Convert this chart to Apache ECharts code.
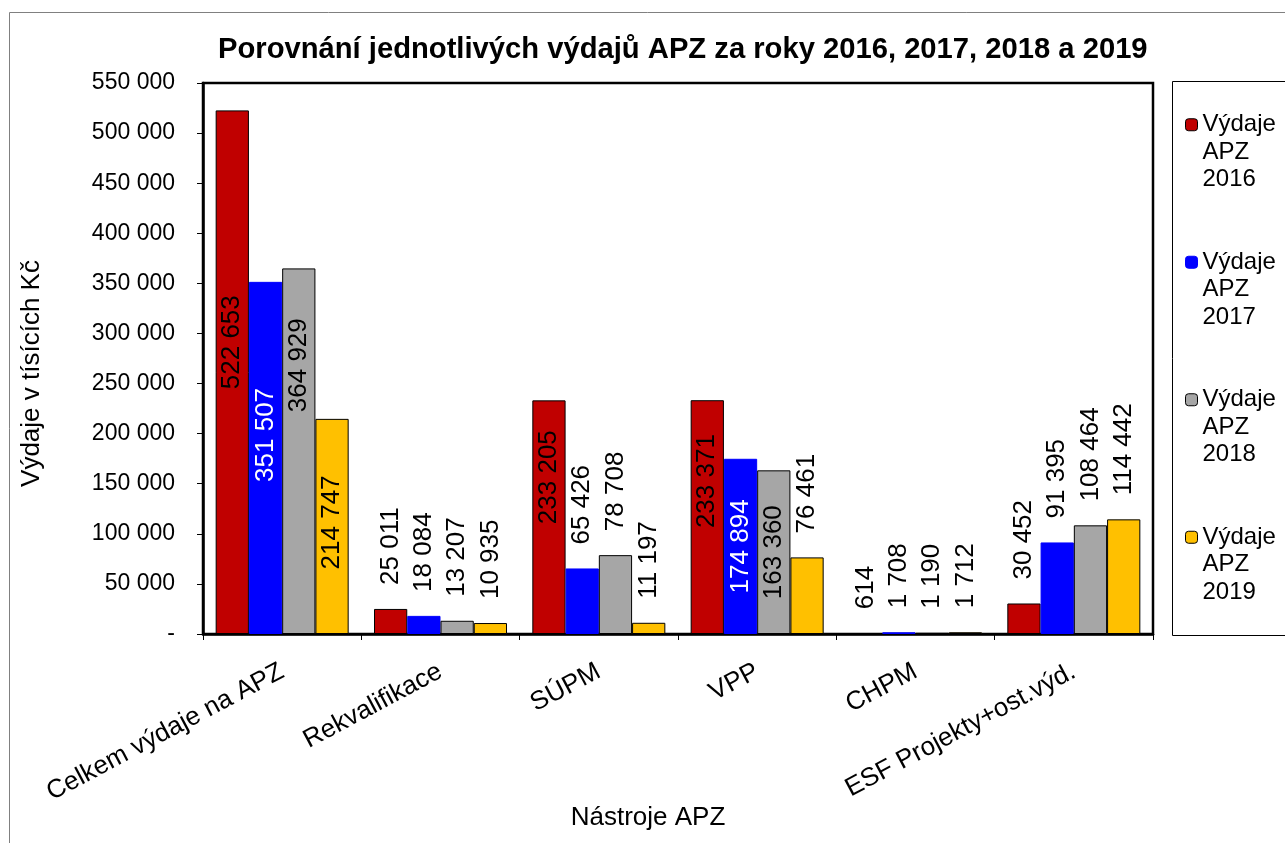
<!DOCTYPE html>
<html>
<head>
<meta charset="utf-8">
<title>Porovnání jednotlivých výdajů APZ</title>
<script src="https://cdn.jsdelivr.net/npm/echarts@6/dist/echarts.min.js"></script>
<style>
  html, body { margin: 0; padding: 0; background: #fff; }
  #chart { width: 1285px; height: 843px; }
</style>
</head>
<body>
<div id="chart"></div>
<script>
// Nástroje APZ (categories)
const categories = ['Celkem výdaje na APZ', 'Rekvalifikace', 'SÚPM', 'VPP', 'CHPM', 'ESF Projekty+ost.výd.'];

// Výdaje v tisících Kč per year
const vydaje2016 = [522653, 25011, 233205, 233371, 614, 30452];
const vydaje2017 = [351507, 18084, 65426, 174894, 1708, 91395];
const vydaje2018 = [364929, 13207, 78708, 163360, 1190, 108464];
const vydaje2019 = [214747, 10935, 11197, 76461, 1712, 114442];

const seriesNames = ['Výdaje APZ 2016', 'Výdaje APZ 2017', 'Výdaje APZ 2018', 'Výdaje APZ 2019'];

const FONT = '"Liberation Sans", Arial, sans-serif';
const fmt = v => String(v).replace(/\B(?=(\d{3})+(?!\d))/g, ' ');

const seriesStyle = [
  { color: '#C00000', border: '#000000', insideText: '#000000' },
  { color: '#0000FF', border: '#0000FF', insideText: '#FFFFFF' },
  { color: '#A6A6A6', border: '#000000', insideText: '#000000' },
  { color: '#FFC000', border: '#000000', insideText: '#000000' }
];

// bars tall enough carry their value inside, the rest above the bar
const INSIDE_MIN = 150000;

// hand-placed lift (px) of some inside labels, per series and category
const insideLift = [
  [30, 0, 40, 36, 0, 0],
  [23, 0, 0, 0, 0, 0],
  [86, 0, 0, 0, 0, 0],
  [4, 0, 0, 0, 0, 0]
];

function buildSeries(idx, values) {
  const st = seriesStyle[idx];
  return {
    name: seriesNames[idx],
    type: 'bar',
    barGap: '0%',
    barCategoryGap: '16%',
    itemStyle: { color: st.color, borderColor: st.border, borderWidth: 1 },
    data: values.map((v, c) => ({
      value: v,
      // label offset is given along the rotated text, so x moves it upwards
      label: v >= INSIDE_MIN
        ? { position: 'inside', rotate: 90, align: 'center', verticalAlign: 'middle',
            offset: [insideLift[idx][c], 0], color: st.insideText }
        : { position: 'top', rotate: 90, align: 'left', verticalAlign: 'middle', distance: 24, color: '#000' }
    })),
    label: {
      show: true,
      fontFamily: FONT,
      fontSize: 26,
      formatter: p => fmt(p.value)
    },
    emphasis: { disabled: true }
  };
}

const chart = echarts.init(document.getElementById('chart'), null, { renderer: 'canvas' });

chart.setOption({
  animation: false,
  backgroundColor: '#ffffff',
  title: {
    text: 'Porovnání jednotlivých výdajů APZ za roky 2016, 2017, 2018 a 2019',
    left: 218,
    top: 35,
    padding: 0,
    textStyle: { fontFamily: FONT, fontWeight: 'bold', fontSize: 29.2, color: '#000' }
  },
  graphic: [
    { type: 'rect', shape: { x: 9.5, y: 12.5, width: 1400, height: 1000 }, style: { fill: null, stroke: '#808080', lineWidth: 1 }, silent: true },
    { type: 'rect', shape: { x: 1172.5, y: 81.5, width: 200, height: 554 }, style: { fill: null, stroke: '#000000', lineWidth: 1 }, silent: true }
  ],
  legend: {
    orient: 'vertical',
    left: 1185,
    top: 56,
    padding: 0,
    itemWidth: 12,
    itemHeight: 12,
    itemGap: 0,
    data: seriesNames.map((n, i) => ({
      name: n,
      itemStyle: { color: seriesStyle[i].color, borderColor: seriesStyle[i].border, borderWidth: 1 }
    })),
    // two leading empty lines keep the marker beside the first line of the name
    formatter: n => '\n\n' + n.split(' ').join('\n'),
    textStyle: { fontFamily: FONT, fontSize: 24, color: '#000', lineHeight: 27.5 },
    selectedMode: false
  },
  grid: {
    left: 203, right: 132, top: 83, bottom: 209,
    outerBoundsMode: 'none',
    show: true, borderColor: '#000', borderWidth: 2.5, backgroundColor: '#fff'
  },
  xAxis: {
    type: 'category',
    data: categories,
    name: 'Nástroje APZ',
    nameLocation: 'middle',
    nameGap: 171,
    nameMoveOverlap: false,
    nameTextStyle: { fontFamily: FONT, fontSize: 26, color: '#000', padding: [0, 60, 0, 0] },
    axisLine: { lineStyle: { color: '#000', width: 2.5 } },
    axisTick: { show: true, alignWithLabel: false, length: 6, lineStyle: { color: '#000', width: 1 } },
    axisLabel: { rotate: 28, margin: 36, fontFamily: FONT, fontSize: 26, color: '#000', interval: 0 }
  },
  yAxis: {
    type: 'value',
    min: 0,
    max: 550000,
    interval: 50000,
    name: 'Výdaje v tísících Kč',
    nameLocation: 'middle',
    nameRotate: 90,
    nameGap: 158,
    nameMoveOverlap: false,
    nameTextStyle: { fontFamily: FONT, fontSize: 26, color: '#000', padding: [0, 30, 0, 0] },
    axisLine: { show: true, lineStyle: { color: '#000', width: 2.5 } },
    axisTick: { show: true, length: 6, lineStyle: { color: '#000', width: 1 } },
    splitLine: { show: false },
    axisLabel: {
      margin: 28,
      fontFamily: FONT, fontSize: 23, color: '#000',
      formatter: v => v === 0 ? '-' : fmt(v)
    }
  },
  series: [
    buildSeries(0, vydaje2016),
    buildSeries(1, vydaje2017),
    buildSeries(2, vydaje2018),
    buildSeries(3, vydaje2019)
  ]
});
</script>
</body>
</html>
